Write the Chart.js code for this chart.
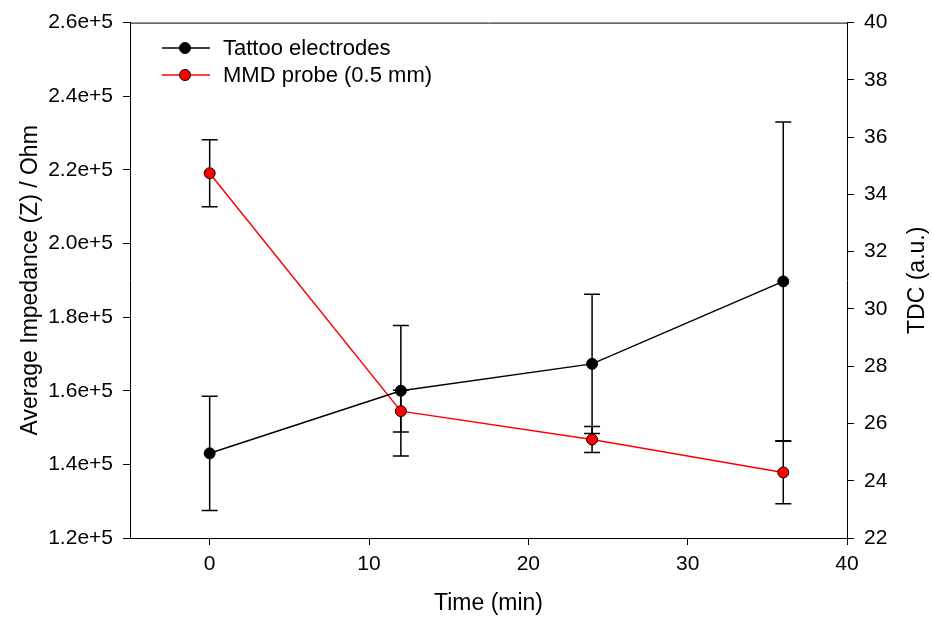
<!DOCTYPE html>
<html>
<head>
<meta charset="utf-8">
<script src="https://cdn.jsdelivr.net/npm/chart.js@4/dist/chart.umd.min.js"></script>
<style>
  html, body { margin: 0; padding: 0; background: #fff; }
  #wrap { width: 932px; height: 621px; position: relative; }
</style>
</head>
<body>
<div id="wrap"><canvas id="chart"></canvas></div>
<script>
'use strict';

// data
var times = [0, 12, 24, 36];
var impedance = [143000, 160000, 167300, 189700];
var impedanceErr = [15500, 17700, 18900, 43300];
var tdc = [34.74, 26.43, 25.44, 24.29];
var tdcErr = [1.17, 0.73, 0.45, 1.09];

var xTicks = [0, 10, 20, 30, 40];
var seriesLabels = ['Tattoo electrodes', 'MMD probe (0.5 mm)'];
var rightTitle = 'TDC (a.u.)';

var FONT = '"Liberation Sans", Arial, sans-serif';

function toPoints(xs, ys, errs) {
    return xs.map(function (x, i) {
        return { x: x, y: ys[i], err: errs[i] };
    });
}

// error bars, drawn under the markers
var errorBars = {
    id: 'errorBars',
    beforeDatasetsDraw: function (chart) {
        var ctx = chart.ctx;
        ctx.save();
        ctx.strokeStyle = '#000';
        ctx.lineWidth = 1.5;
        chart.data.datasets.forEach(function (ds) {
            var xs = chart.scales.x;
            var ys = chart.scales[ds.yAxisID];
            ds.data.forEach(function (p) {
                var px = xs.getPixelForValue(p.x);
                var top = ys.getPixelForValue(p.y + p.err);
                var bot = ys.getPixelForValue(p.y - p.err);
                ctx.beginPath();
                ctx.moveTo(px, top); ctx.lineTo(px, bot);
                ctx.moveTo(px - 8, top); ctx.lineTo(px + 8, top);
                ctx.moveTo(px - 8, bot); ctx.lineTo(px + 8, bot);
                ctx.stroke();
            });
        });
        ctx.restore();
    }
};

// top frame line, right axis title (reads bottom to top) and the inset legend
var frameAndLegend = {
    id: 'frameAndLegend',
    afterDraw: function (chart) {
        var ctx = chart.ctx;
        var a = chart.chartArea;
        ctx.save();
        ctx.strokeStyle = '#000';
        ctx.lineWidth = 1;
        ctx.beginPath();
        ctx.moveTo(a.left, a.top + 0.5);
        ctx.lineTo(a.right, a.top + 0.5);
        ctx.stroke();

        ctx.save();
        ctx.translate(918, (a.top + a.bottom) / 2);
        ctx.rotate(-Math.PI / 2);
        ctx.fillStyle = '#000';
        ctx.font = '23px ' + FONT;
        ctx.textAlign = 'center';
        ctx.textBaseline = 'middle';
        ctx.fillText(rightTitle, 0, 0);
        ctx.restore();

        chart.data.datasets.forEach(function (ds, i) {
            var y = 48 + i * 27;
            ctx.strokeStyle = ds.borderColor;
            ctx.lineWidth = 1.5;
            ctx.beginPath();
            ctx.moveTo(162, y); ctx.lineTo(210, y);
            ctx.stroke();
            ctx.beginPath();
            ctx.arc(185, y, 5.5, 0, Math.PI * 2);
            ctx.fillStyle = ds.pointBackgroundColor;
            ctx.fill();
            ctx.strokeStyle = '#000';
            ctx.lineWidth = 1;
            ctx.stroke();
            ctx.fillStyle = '#000';
            ctx.font = '22px ' + FONT;
            ctx.textBaseline = 'middle';
            ctx.textAlign = 'left';
            ctx.fillText(ds.label, 223, y + 1);
        });
        ctx.restore();
    }
};

var axisGrid = {
    display: true,
    drawOnChartArea: false,
    drawTicks: true,
    tickLength: 7,
    tickWidth: 1,
    color: '#000'
};
var axisBorder = { display: true, color: '#000', width: 1 };

new Chart(document.getElementById('chart'), {
    type: 'line',
    data: {
        datasets: [
            {
                label: seriesLabels[0],
                data: toPoints(times, impedance, impedanceErr),
                yAxisID: 'y',
                borderColor: '#000',
                borderWidth: 1.5,
                pointBackgroundColor: '#000',
                pointBorderColor: '#000',
                pointBorderWidth: 1,
                pointRadius: 5.5,
                tension: 0
            },
            {
                label: seriesLabels[1],
                data: toPoints(times, tdc, tdcErr),
                yAxisID: 'y2',
                borderColor: '#ff0000',
                borderWidth: 1.5,
                pointBackgroundColor: '#ff0000',
                pointBorderColor: '#000',
                pointBorderWidth: 1,
                pointRadius: 5.5,
                tension: 0
            }
        ]
    },
    options: {
        responsive: true,
        maintainAspectRatio: false,
        animation: false,
        layout: { padding: { top: 21, left: 0, right: 0, bottom: 0 } },
        plugins: {
            legend: { display: false },
            tooltip: { enabled: false }
        },
        scales: {
            x: {
                type: 'linear',
                min: -5,
                max: 40,
                afterBuildTicks: function (scale) {
                    scale.ticks = xTicks.map(function (v) { return { value: v }; });
                },
                afterFit: function (scale) { scale.height = 83; },
                grid: axisGrid,
                border: axisBorder,
                ticks: {
                    color: '#000',
                    font: { family: FONT, size: 21 },
                    padding: 7,
                    maxRotation: 0
                },
                title: {
                    display: true,
                    text: 'Time (min)',
                    color: '#000',
                    font: { family: FONT, size: 23 },
                    padding: { top: 0, bottom: 4 }
                }
            },
            y: {
                type: 'linear',
                position: 'left',
                min: 120000,
                max: 260000,
                ticks: {
                    stepSize: 20000,
                    color: '#000',
                    font: { family: FONT, size: 21 },
                    padding: 10,
                    callback: function (v) { return (v / 1e5).toFixed(1) + 'e+5'; }
                },
                afterFit: function (scale) { scale.width = 130; },
                grid: axisGrid,
                border: axisBorder,
                title: {
                    display: true,
                    text: 'Average Impedance (Z) / Ohm',
                    color: '#000',
                    font: { family: FONT, size: 23 },
                    padding: { top: 17, bottom: 0 }
                }
            },
            y2: {
                type: 'linear',
                position: 'right',
                min: 22,
                max: 40,
                ticks: {
                    stepSize: 2,
                    color: '#000',
                    font: { family: FONT, size: 21 },
                    padding: 10
                },
                afterFit: function (scale) { scale.width = 85; },
                grid: axisGrid,
                border: axisBorder,
                title: { display: false }
            }
        }
    },
    plugins: [errorBars, frameAndLegend]
});
</script>
</body>
</html>
